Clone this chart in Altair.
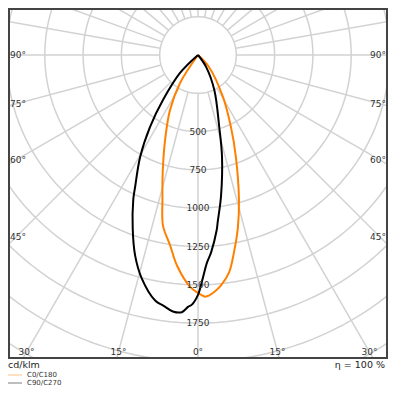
import math
import numpy as np
import pandas as pd
import altair as alt

# ---------------- data ----------------
# C0/C180 (orange): signed gamma angle (negative = left half) and cd/klm
c0_angles = [-90, -32.7, -27.0, -21.2, -16.7, -13.8, -11.6, -8.3, -5.7, -2.0, 0.0, 1.7, 2.6, 4.5, 5.7, 8.1, 10.3, 12.9, 15.8, 20.4, 24.6, 30.8, 42.5, 90]
c0_values = [0, 217, 402, 594, 802, 973, 1137, 1257, 1381, 1513, 1553, 1578, 1572, 1539, 1512, 1435, 1311, 1163, 982, 709, 516, 318, 106, 0]

# C90/C270 (black)
c90_angles = [-90, -45, -37.9, -33.7, -29.6, -25.5, -24.1, -20.6, -17.4, -14.1, -9.9, -7.9, -5.6, -3.6, -2.2, -1.4, 0.0, 1.2, 2.4, 3.8, 6.1, 6.7, 9.3, 13.3, 16.5, 25.0, 34.4, 90]
c90_values = [0, 166, 371, 564, 764, 953, 1035, 1211, 1372, 1505, 1627, 1651, 1682, 1682, 1644, 1630, 1566, 1460, 1361, 1291, 1149, 1100, 931, 681, 487, 252, 92, 0]

series_names = ["C0/C180", "C90/C270"]
series_colors = ["#ff8000", "#000000"]
legend_colors = ["#ffd6ad", "#a8a8a8"]

ring_values = [250, 500, 750, 1000, 1250, 1500, 1750, 2000, 2250]
ring_labels = [500, 750, 1000, 1250, 1500, 1750]
lower_radials = list(range(-90, 91, 15))     # every 15° below the horizontal
upper_radials = list(range(100, 261, 10))    # every 10° above it
side_labels = [90, 75, 60, 45]
bottom_labels = [-30, -15, 0, 15, 30]

# ---------------- geometry ----------------
K = 0.1532          # px per cd/klm
W, H = 380, 351     # frame (plot area)
CX, CY = 190, 47    # polar centre in px

xs = alt.Scale(domain=[-CX / K, (W - CX) / K], nice=False, zero=False)
ys = alt.Scale(domain=[-CY / K, (H - CY) / K], nice=False, zero=False, reverse=True)

def polar(v, a):
    r = math.radians(a)
    return v * math.sin(r), v * math.cos(r)

rows = []
for name, angs, vals in [(series_names[0], c0_angles, c0_values), (series_names[1], c90_angles, c90_values)]:
    for i, (a, v) in enumerate(zip(angs, vals)):
        x, y = polar(v, a)
        rows.append({"series": name, "i": i, "x": x, "y": y})
curves = pd.DataFrame(rows)

rows = []
for rv in ring_values:
    for i, a in enumerate(range(0, 362, 2)):
        x, y = polar(rv, a)
        rows.append({"ring": rv, "i": i, "x": x, "y": y})
rings = pd.DataFrame(rows)

rows = []
for a in lower_radials + upper_radials:
    for i, rv in enumerate([250, 3000]):
        x, y = polar(rv, a)
        rows.append({"ang": a, "i": i, "x": x, "y": y})
radials = pd.DataFrame(rows)

grid_color = "#d2d2d2"
FONT = "DejaVu Sans"

ring_layer = alt.Chart(rings).mark_line(color=grid_color, strokeWidth=1.5, clip=True).encode(
    x=alt.X("x:Q", scale=xs, axis=None),
    y=alt.Y("y:Q", scale=ys, axis=None),
    detail="ring:N", order="i:Q")

radial_layer = alt.Chart(radials).mark_line(color=grid_color, strokeWidth=1.5, clip=True).encode(
    x=alt.X("x:Q", scale=xs, axis=None),
    y=alt.Y("y:Q", scale=ys, axis=None),
    detail="ang:N", order="i:Q")

curve_layer = alt.Chart(curves).mark_line(strokeWidth=2, clip=True, strokeJoin="round", interpolate="catmull-rom").encode(
    x=alt.X("x:Q", scale=xs, axis=None),
    y=alt.Y("y:Q", scale=ys, axis=None),
    color=alt.Color("series:N", scale=alt.Scale(domain=series_names, range=series_colors), legend=None),
    order="i:Q")

rl = pd.DataFrame({"v": ring_labels, "x": [0] * len(ring_labels), "t": [str(v) for v in ring_labels]})
ring_text = alt.Chart(rl).mark_text(font=FONT, fontSize=9, color="#333333", baseline="middle").encode(
    x=alt.X("x:Q", scale=xs, axis=None), y=alt.Y("v:Q", scale=ys, axis=None), text="t:N")

rows = []
for a in side_labels:
    dy = (CX - 8) / math.tan(math.radians(a)) if a != 90 else 0
    rows.append({"t": f"{a}°", "y": dy / K})
sl = pd.DataFrame(rows)
left_text = alt.Chart(sl).mark_text(font=FONT, fontSize=9, color="#333333", align="left", baseline="middle").encode(
    x=alt.value(2), y=alt.Y("y:Q", scale=ys, axis=None), text="t:N")
right_text = alt.Chart(sl).mark_text(font=FONT, fontSize=9, color="#333333", align="right", baseline="middle").encode(
    x=alt.value(W - 2), y=alt.Y("y:Q", scale=ys, axis=None), text="t:N")

rows = []
LBY = 344
for a in bottom_labels:
    xpx = (LBY - CY) * math.tan(math.radians(a))
    rows.append({"t": f"{abs(a)}°", "x": xpx / K})
bl = pd.DataFrame(rows)
bottom_text = alt.Chart(bl).mark_text(font=FONT, fontSize=9, color="#333333", baseline="middle").encode(
    x=alt.X("x:Q", scale=xs, axis=None), y=alt.value(LBY), text="t:N")

frame = alt.Chart(pd.DataFrame({"a": [0]})).mark_rect(fill="transparent", stroke="#444444", strokeWidth=2).encode(
    x=alt.value(1), x2=alt.value(W - 1), y=alt.value(1), y2=alt.value(H - 1))

unit_text = alt.Chart(pd.DataFrame({"t": ["cd/klm"]})).mark_text(font=FONT, fontSize=9.5, color="#222222", align="left", baseline="middle").encode(
    x=alt.value(0), y=alt.value(357), text="t:N")
eta_text = alt.Chart(pd.DataFrame({"t": ["η = 100 %"]})).mark_text(font=FONT, fontSize=9.5, color="#222222", align="right", baseline="middle").encode(
    x=alt.value(W - 3), y=alt.value(357), text="t:N")

leg = pd.DataFrame({"name": series_names, "c": legend_colors, "y": [367, 375]})
leg_lines = alt.Chart(leg).mark_rule(strokeWidth=1.5).encode(
    x=alt.value(0), x2=alt.value(14), y=alt.Y("y:Q", scale=None),
    color=alt.Color("c:N", scale=None, legend=None))
leg_text = alt.Chart(leg).mark_text(font=FONT, fontSize=7, color="#333333", align="left", baseline="middle").encode(
    x=alt.value(19), y=alt.Y("y:Q", scale=None), text="name:N")

chart = alt.layer(
    ring_layer, radial_layer, curve_layer, ring_text, left_text, right_text, bottom_text,
    frame, unit_text, eta_text, leg_lines, leg_text
).resolve_scale(color="independent").properties(
    width=W, height=H,
    autosize=alt.AutoSizeParams(type="none"),
    padding={"left": 0, "top": 0, "right": 0, "bottom": 28},
).configure_view(strokeWidth=0)

chart.save("out.html", embed_options={"renderer": "svg", "actions": False})
